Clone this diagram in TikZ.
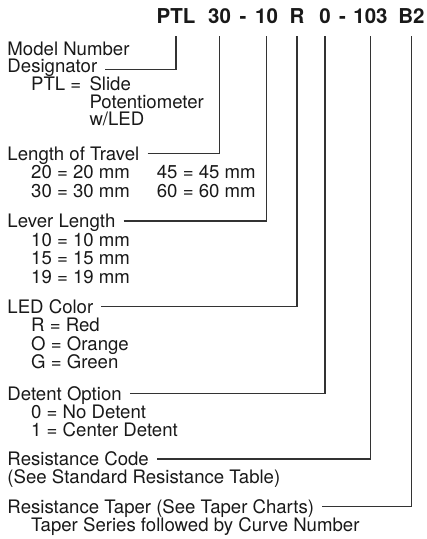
\documentclass[tikz,border=0pt]{standalone}
\usepackage{fontspec}
\setmainfont{TeX Gyre Heros}

\begin{document}
\begin{tikzpicture}[x=1pt, y=-1pt,
  every node/.style={font=\fontsize{18.6}{18.6}\selectfont, text=black!90, inner sep=0pt, anchor=base west},
  code/.style={font=\fontsize{20.5}{21}\selectfont\bfseries, anchor=base, text depth=0pt, outer ysep=12pt},
  field/.style={text height=13pt, text depth=0pt},
  lead/.style={draw=black!80, line width=1.1pt, shorten <=8pt}]
  \useasboundingbox (0,0) rectangle (427,539);
  % ordering code
  \node[code] (ptl) at (176,23.5) {PTL};
  \node[code] (trav) at (219.5,23.5) {30};
  \node[code] (hyA) at (243,23.5) {-};
  \node[code] (lev) at (266.5,23.5) {10};
  \node[code] (led) at (297,23.5) {R};
  \node[code] (det) at (325,23.5) {0};
  \node[code] (hyB) at (342.5,23.5) {-};
  \node[code] (res) at (370.5,23.5) {103};
  \node[code] (tap) at (411.5,23.5) {B2};
  % model number
  \node (model) at (7.3,55) {Model Number};
  \node[field] (desig) at (7.3,72.5) {Designator};
  \node (ptlA) at (31,90.5) {PTL =};
  \node (ptlB) at (89.3,90.5) {Slide};
  \node (ptlC) at (89.3,108) {Potentiometer};
  \node (ptlD) at (89.3,125.5) {w/LED};
  % length of travel
  \node[field] (travel) at (7.3,160) {Length of Travel};
  \node (trA) at (31,178.5) {20 = 20 mm};
  \node (trB) at (31,197) {30 = 30 mm};
  \node (trC) at (156.7,178.5) {45 = 45 mm};
  \node (trD) at (156.7,197) {60 = 60 mm};
  % lever length
  \node[field] (lever) at (7.3,227.5) {Lever Length};
  \node (lvA) at (31,246) {10 = 10 mm};
  \node (lvB) at (31,264.5) {15 = 15 mm};
  \node (lvC) at (31,283) {19 = 19 mm};
  % LED color
  \node[field] (color) at (7.3,313.3) {LED Color};
  \node (clA) at (31,331.8) {R = Red};
  \node (clB) at (31,350.3) {O = Orange};
  \node (clC) at (31,368.8) {G = Green};
  % detent
  \node[field] (detent) at (7.3,400) {Detent Option};
  \node (dtA) at (31,418) {0 = No Detent};
  \node (dtB) at (31,436) {1 = Center Detent};
  % resistance
  \node[field] (rcode) at (7.3,465.5) {Resistance Code};
  \node (rcA) at (7.3,483.5) {(See Standard Resistance Table)};
  \node[field] (taper) at (7.3,513.3) {Resistance Taper (See Taper Charts)};
  \node (tpA) at (31,531.5) {Taper Series followed by Curve Number};
  % leaders
  \draw[lead] ([yshift=-3.8pt]desig.east) -| (ptl.south);
  \draw[lead] (travel.east) -| (trav.south);
  \draw[lead] (lever.east) -| (lev.south);
  \draw[lead] (color.east) -| (led.south);
  \draw[lead] (detent.east) -| (det.south);
  \draw[lead] (rcode.east) -| (res.south);
  \draw[lead] (taper.east) -| (tap.south);
\end{tikzpicture}
\end{document}
